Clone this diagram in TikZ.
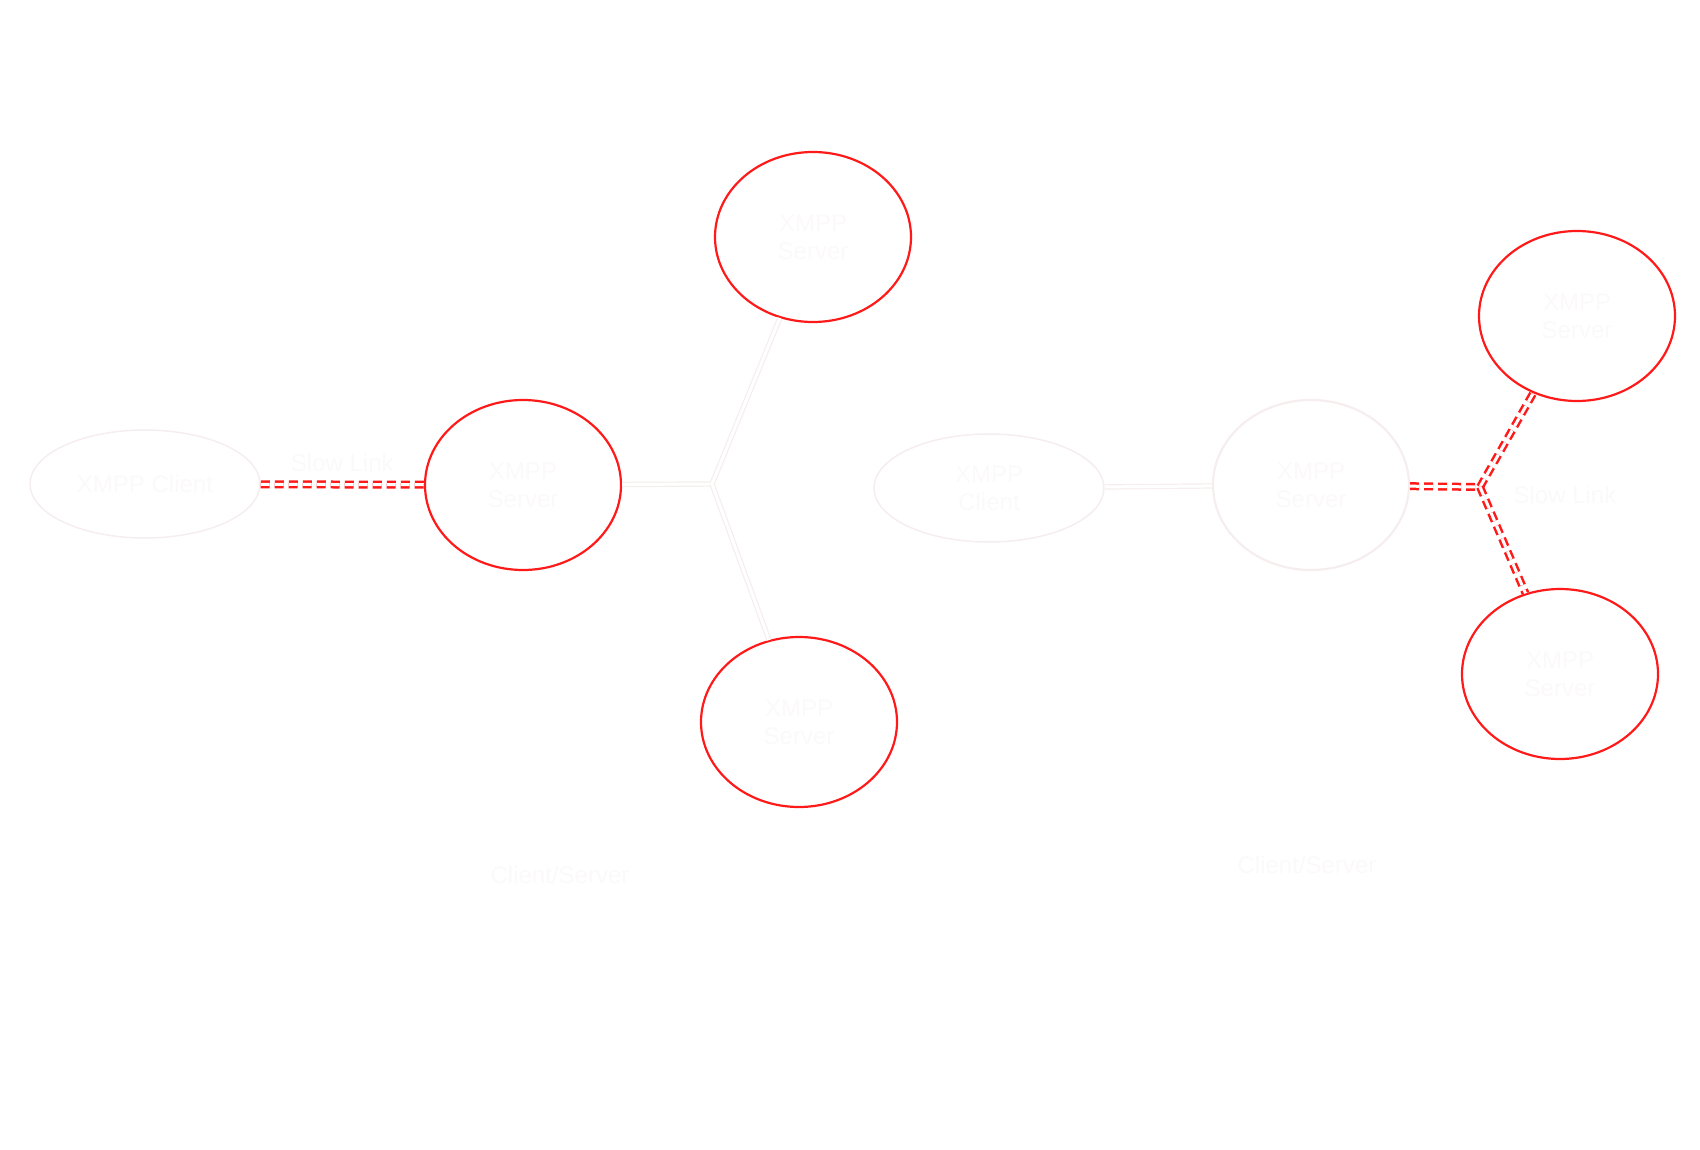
\documentclass[tikz,border=0pt]{standalone}
\usepackage{fontspec}
\setmainfont{Liberation Sans}
\usetikzlibrary{shapes.geometric}
\definecolor{faint}{HTML}{F6EEEE}
\definecolor{ftext}{HTML}{FBF9F9}
\definecolor{rd}{HTML}{FF1A1A}
\begin{document}
\begin{tikzpicture}[x=1pt,y=-1pt,
  cli/.style={ellipse,draw=faint,line width=1.5pt,minimum width=230pt,minimum height=108pt,text=ftext,font=\fontsize{24}{28}\selectfont,align=center},
  srv/.style={ellipse,draw=rd,line width=2.2pt,minimum width=196pt,minimum height=170pt,text=ftext,font=\fontsize{24}{28}\selectfont,align=center},
  srvf/.style={srv,draw=faint},
  fastlink/.style={draw=faint,double=white,double distance=3pt,line width=1.2pt},
  slowlink/.style={draw=rd,double=white,double distance=3pt,line width=2.5pt,dash pattern=on 9pt off 5pt},
  lbl/.style={text=ftext,font=\fontsize{24}{28}\selectfont}]
\useasboundingbox (0,0) rectangle (1700,1150);
\node[cli] (c1) at (145,484) {XMPP Client};
\node[srv] (s1) at (523,485) {XMPP\\Server};
\node[srv] (t1) at (813,237) {XMPP\\Server};
\node[srv] (b1) at (799,722) {XMPP\\Server};
\coordinate (j1) at (712,484);
\draw[slowlink] (c1) -- (s1) node[midway,above=8pt,lbl] {Slow Link};
\draw[fastlink] (s1) -- (j1) -- (t1);
\draw[fastlink] (j1) -- (b1);
\node[cli] (c2) at (989,488) {XMPP\\Client};
\node[srvf] (s2) at (1311,485) {XMPP\\Server};
\node[srv] (t2) at (1577,316) {XMPP\\Server};
\node[srv] (b2) at (1560,674) {XMPP\\Server};
\coordinate (j2) at (1480,487);
\draw[fastlink] (c2) -- (s2);
\draw[slowlink] (s2) -- (j2) -- (t2);
\draw[slowlink] (j2) -- (b2);
\node[lbl] at (1565,495) {Slow Link};
\node[lbl] (m1) at (560,875) {Client/Server};
\node[lbl] (m2) at (1307,865) {Client/Server};
\end{tikzpicture}
\end{document}
